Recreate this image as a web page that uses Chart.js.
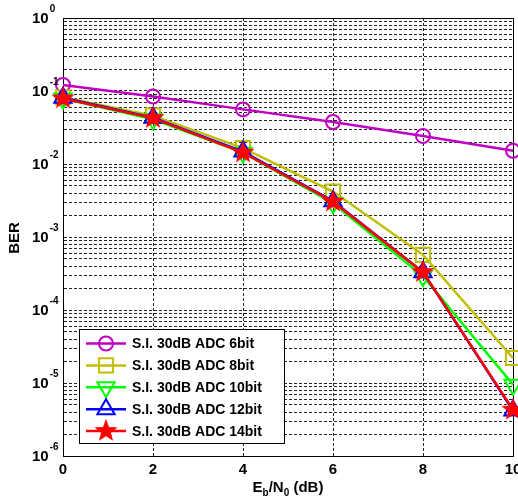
<!DOCTYPE html>
<html>
<head>
<meta charset="utf-8">
<script src="https://cdn.jsdelivr.net/npm/chart.js@4/dist/chart.umd.min.js"></script>
<style>
html,body{margin:0;padding:0;background:#fff;overflow:hidden;}
#wrap{position:absolute;left:0;top:0;width:530px;height:500px;}
</style>
</head>
<body>
<div id="wrap"><canvas id="berChart" width="530" height="500"></canvas></div>
<script>
// Eb/N0 (dB)
var snr = [0, 2, 4, 6, 8, 10];
// BER
var ber6bit  = [0.121, 0.084, 0.056, 0.0376, 0.0242, 0.0152];
var ber8bit  = [0.082, 0.046, 0.0165, 0.0042, 0.00057, 0.000022];
var ber10bit = [0.079, 0.041, 0.0143, 0.0029, 0.00029, 0.0000095];
var ber12bit = [0.081, 0.043, 0.0148, 0.0031, 0.00033, 0.0000042];
var ber14bit = [0.079, 0.0425, 0.0143, 0.00305, 0.00033, 0.0000043];
var names = ['S.I. 30dB ADC 6bit', 'S.I. 30dB ADC 8bit', 'S.I. 30dB ADC 10bit', 'S.I. 30dB ADC 12bit', 'S.I. 30dB ADC 14bit'];
var colors = ['#C000C0', '#BFBF00', '#00FF00', '#0000FF', '#FF0000'];
var xTicks = [0, 2, 4, 6, 8, 10];
var yExponents = [0, -1, -2, -3, -4, -5, -6];

var FONT = 'Liberation Sans, Arial, sans-serif';

function starImg(color){
	var c = document.createElement('canvas');
	c.width = 24; c.height = 24;
	var g = c.getContext('2d');
	g.beginPath();
	for(var i=0;i<10;i++){
		var r = (i%2==0) ? 10 : 4.2;
		var a = -Math.PI/2 + i*Math.PI/5;
		g.lineTo(12 + r*Math.cos(a), 12 + r*Math.sin(a));
	}
	g.closePath();
	g.fillStyle = color;
	g.fill();
	g.lineWidth = 1.5;
	g.strokeStyle = color;
	g.stroke();
	return c;
}

function pts(arr){
	return snr.map(function(x, i){ return {x: x, y: arr[i]}; });
}

var series = [ber6bit, ber8bit, ber10bit, ber12bit, ber14bit];
var markers = [
	{style:'circle', radius:7, rot:0},
	{style:'rect', radius:10, rot:0},
	{style:'triangle', radius:10, rot:180},
	{style:'triangle', radius:10, rot:0},
	{style:starImg('#FF0000'), radius:10, rot:0}
];

var datasets = [];
for(var i in series){
	datasets.push({
		label: names[i],
		data: pts(series[i]),
		borderColor: colors[i],
		backgroundColor: colors[i],
		borderWidth: 2.5,
		pointStyle: markers[i].style,
		pointRadius: markers[i].radius,
		pointRotation: markers[i].rot,
		pointBorderColor: colors[i],
		pointBackgroundColor: 'rgba(0,0,0,0)',
		pointBorderWidth: 2,
		order: 4 - i,
		clip: false,
		tension: 0
	});
}

// box, y labels with superscripts, axis titles, legend
var decor = {
	id: 'decor',
	beforeDatasetsDraw: function(chart){
		var ctx = chart.ctx;
		var a = chart.chartArea;
		ctx.save();
		ctx.strokeStyle = '#000';
		ctx.lineWidth = 1;
		ctx.strokeRect(Math.round(a.left)+0.5, Math.round(a.top)+0.5, Math.round(a.right-a.left), Math.round(a.bottom-a.top));
		ctx.restore();
	},
	afterDraw: function(chart){
		var ctx = chart.ctx;
		var a = chart.chartArea;
		var ys = chart.scales.y;
		ctx.save();
		ctx.fillStyle = '#000';
		// y tick labels
		for(var k in yExponents){
			var y = ys.getPixelForValue(Math.pow(10, yExponents[k]));
			ctx.font = 'bold 15px ' + FONT;
			ctx.textAlign = 'left';
			ctx.textBaseline = 'middle';
			ctx.fillText('10', 32, y + 1);
			var w = ctx.measureText('10').width;
			ctx.font = 'bold 10px ' + FONT;
			ctx.fillText(String(yExponents[k]), 32 + w + 1, y - 9);
		}
		// y title
		ctx.save();
		ctx.translate(15, 238);
		ctx.rotate(-Math.PI/2);
		ctx.font = 'bold 15px ' + FONT;
		ctx.textAlign = 'center';
		ctx.textBaseline = 'middle';
		ctx.fillText('BER', 0, 0);
		ctx.restore();
		// x title E_b/N_0 (dB)
		var parts = [['E',0],['b',1],['/N',0],['0',1],[' (dB)',0]];
		var total = 0;
		for(var p in parts){
			ctx.font = parts[p][1] ? 'bold 10px ' + FONT : 'bold 15px ' + FONT;
			total += ctx.measureText(parts[p][0]).width;
		}
		var xx = (a.left + a.right)/2 - total/2;
		ctx.textAlign = 'left';
		ctx.textBaseline = 'alphabetic';
		for(var p in parts){
			ctx.font = parts[p][1] ? 'bold 10px ' + FONT : 'bold 15px ' + FONT;
			ctx.fillText(parts[p][0], xx, parts[p][1] ? 496 : 492);
			xx += ctx.measureText(parts[p][0]).width;
		}

		// legend box
		var bx = 79, by = 329, bw = 205, bh = 114;
		ctx.fillStyle = '#fff';
		ctx.fillRect(bx, by, bw, bh);
		ctx.strokeStyle = '#000';
		ctx.lineWidth = 1;
		ctx.strokeRect(bx + 0.5, by + 0.5, bw, bh);
		for(var i=0;i<names.length;i++){
			var ry = 343.5 + i*21.9;
			ctx.strokeStyle = colors[i];
			ctx.lineWidth = 2.5;
			ctx.beginPath();
			ctx.moveTo(86, ry);
			ctx.lineTo(126, ry);
			ctx.stroke();
			ctx.lineWidth = 2;
			ctx.fillStyle = 'rgba(0,0,0,0)';
			Chart.helpers.drawPoint(ctx, {pointStyle: markers[i].style, radius: markers[i].radius, rotation: markers[i].rot, borderWidth: 2}, 106, ry);
			ctx.fillStyle = '#000';
			ctx.font = 'bold 14px ' + FONT;
			ctx.textAlign = 'left';
			ctx.textBaseline = 'middle';
			ctx.fillText(names[i], 132, ry + 1);
		}
		ctx.restore();
	}
};

var ctx = document.getElementById('berChart').getContext('2d');
var chart = new Chart(ctx, {
	type: 'line',
	data: { datasets: datasets },
	options: {
		responsive: false,
		animation: false,
		devicePixelRatio: 1,
		layout: { padding: { top: 18, right: 17, left: 0, bottom: 0 } },
		plugins: { legend: { display: false }, tooltip: { enabled: false } },
		scales: {
			x: {
				type: 'linear',
				min: 0, max: 10,
				afterBuildTicks: function(scale){
					scale.ticks = xTicks.map(function(v){ return {value: v}; });
				},
				afterFit: function(scale){ scale.height = 44; },
				grid: { color: 'rgba(0,0,0,0.85)', lineWidth: 1, drawTicks: false },
				border: { display: true, color: '#000', width: 1, dash: [3, 2] },
				ticks: { color: '#000', padding: 5, maxRotation: 0, font: { family: FONT, weight: 'bold', size: 15 } }
			},
			y: {
				type: 'logarithmic',
				min: 1e-6, max: 1,
				afterBuildTicks: function(scale){
					var t = [];
					for(var e=-6;e<=0;e++){
						for(var m=1;m<=9;m++){
							var v = m*Math.pow(10, e);
							if(v <= 1) t.push({value: v});
						}
					}
					scale.ticks = t;
				},
				afterFit: function(scale){ scale.width = 63; },
				grid: { color: 'rgba(0,0,0,0.85)', lineWidth: 1, drawTicks: false },
				border: { display: true, color: '#000', width: 1, dash: [3, 2] },
				ticks: { display: false }
			}
		}
	},
	plugins: [decor]
});
</script>
</body>
</html>
